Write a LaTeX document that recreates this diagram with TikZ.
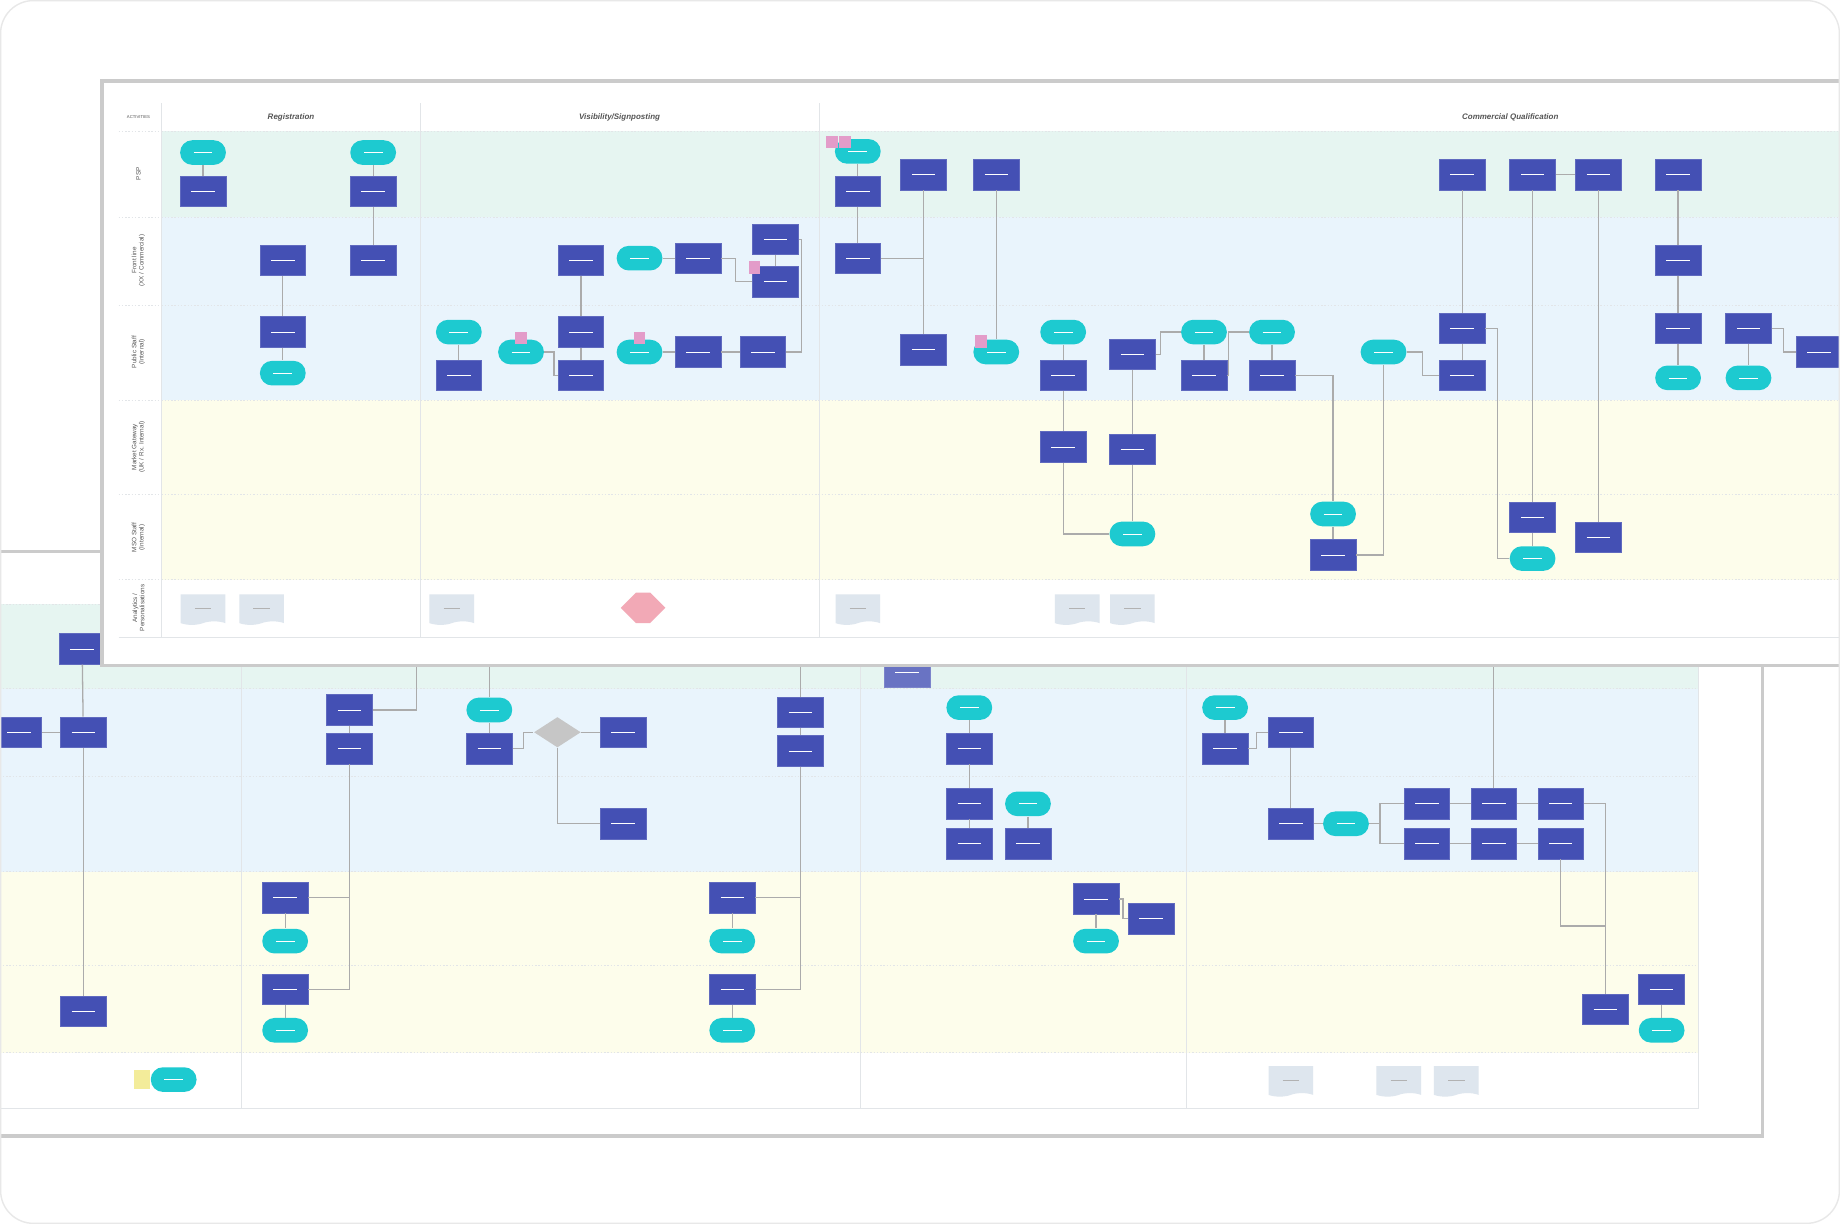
\documentclass[tikz,border=0pt]{standalone}
\usepackage{fontspec}
\setsansfont{Liberation Sans}
\usetikzlibrary{shapes.geometric,shapes.symbols,shapes.misc}
\definecolor{boxc}{HTML}{4450B4}
\definecolor{termc}{HTML}{1DCAD0}
\definecolor{lgreen}{HTML}{E6F5F1}
\definecolor{lblue}{HTML}{E9F4FC}
\definecolor{lyellow}{HTML}{FDFDEB}
\definecolor{framec}{HTML}{CBCBCB}
\definecolor{gridc}{HTML}{E2E5E8}
\definecolor{linec}{HTML}{ABABAB}
\definecolor{docc}{HTML}{DEE6EE}
\definecolor{pinkc}{HTML}{E39CC9}
\definecolor{stickyc}{HTML}{F3EC9A}
\definecolor{diac}{HTML}{C6C6C6}
\definecolor{hexc}{HTML}{F2A9B6}
\definecolor{headc}{HTML}{555555}
\definecolor{cardc}{HTML}{E8E8E8}
\begin{document}
\begin{tikzpicture}[x=0.5pt,y=-0.5pt,
  box/.style={rectangle, fill=boxc, draw=boxc!85!white, line width=0.3pt, minimum width=19.5pt, minimum height=13pt, inner sep=0pt,
    path picture={\draw[white,line width=0.3pt] ([xshift=-5pt]path picture bounding box.center) -- ([xshift=5pt]path picture bounding box.center);}},
  term/.style={rectangle, rounded corners=5.2pt, fill=termc, minimum width=19.5pt, minimum height=10.5pt, inner sep=0pt,
    path picture={\draw[white,line width=0.3pt] ([xshift=-4pt]path picture bounding box.center) -- ([xshift=4pt]path picture bounding box.center);}},
  doc/.style={tape, tape bend top=none, tape bend height=1.5pt, fill=docc, minimum width=19pt, minimum height=13pt, inner sep=0pt,
    path picture={\draw[black!30,line width=0.25pt] ([xshift=-3.5pt,yshift=0.5pt]path picture bounding box.center) -- ([xshift=3.5pt,yshift=0.5pt]path picture bounding box.center);}},
  sticky/.style={rectangle, fill=pinkc, minimum width=5pt, minimum height=5.5pt, inner sep=0pt},
  ysticky/.style={rectangle, fill=stickyc, minimum width=7pt, minimum height=8pt, inner sep=0pt},
  dia/.style={diamond, fill=diac, aspect=1.6, minimum width=20pt, minimum height=13pt, inner sep=0pt},
  hexa/.style={signal, signal to=west and east, fill=hexc, minimum width=19pt, minimum height=13pt, inner sep=0pt},
  conn/.style={draw=linec, line width=0.55pt},
  grid/.style={draw=gridc, line width=0.4pt},
  sep/.style={draw=gridc, line width=0.4pt, dash pattern=on 0.6pt off 0.8pt},
  panel/.style={fill=white, draw=framec, line width=1.5pt},
  head/.style={font=\sffamily\bfseries\itshape\fontsize{3.4}{4}\selectfont, text=headc},
  lanelab/.style={font=\sffamily\fontsize{2.7}{3.1}\selectfont, text=headc, rotate=90, align=center}
]
\useasboundingbox (0,0) rectangle (1568,1043);
\fill[white] (0,0) rectangle (1568,1043);
\begin{scope}
\clip[rounded corners=14pt] (0,0) rectangle (1568,1043);

% ================= BACK PANEL =================
\draw[panel] (-20,470) rectangle (1502,968);
\fill[lgreen] (-20,515) rectangle (1447,587);
\fill[lblue] (-20,587) rectangle (1447,743);
\fill[lyellow] (-20,743) rectangle (1447,897);
\foreach \yy in {515,587,662,743,823,897} {\draw[sep] (-20,\yy) -- (1447,\yy);}
\draw[grid] (-20,945) -- (1447,945);
\foreach \xx in {206,733,1011} {\draw[grid] (\xx,500) -- (\xx,945);}
\draw[grid] (1447,500) -- (1447,945);

\node[box] (d1) at (70,553) {};
\node[box] (d2) at (16,624) {};
\node[box] (d3) at (71,624) {};
\node[box] (d4) at (71,862) {};
\draw[conn] (d2) -- (d3);
\draw[conn] (d1) -- (d3);
\draw[conn] (d3) -- (d4);
\node[ysticky] (ds1) at (121,920) {};
\node[term] (d5) at (148,920) {};

\node[box] (d6) at (298,605) {};
\node[box] (d7) at (298,638) {};
\draw[conn] (d6) -- (d7);
\coordinate (u1) at (355,540);
\draw[conn] (d6.east) -| (u1);
\node[box] (d8) at (243,765) {};
\node[term] (d9) at (243,802) {};
\node[box] (d10) at (243,843) {};
\node[term] (d11) at (243,878) {};
\draw[conn] (d8) -- (d9);
\draw[conn] (d10) -- (d11);
\draw[conn] (d7.south) |- (d8.east);
\draw[conn] (d7.south) |- (d10.east);

\node[term] (d12) at (417,605) {};
\node[box] (d13) at (417,638) {};
\draw[conn] (d12) -- (d13);
\coordinate (u2) at (417,540);
\draw[conn] (d12.north) -- (u2);
\node[dia] (d14) at (475,624) {};
\node[box] (d15) at (531,624) {};
\node[box] (d16) at (531,702) {};
\draw[conn] (d13.east) -- (446,638) |- (d14.west);
\draw[conn] (d14) -- (d15);
\draw[conn] (d14.south) |- (d16.west);

\node[box] (d17) at (682,607) {};
\node[box] (d18) at (682,640) {};
\draw[conn] (d17) -- (d18);
\coordinate (u3) at (682,540);
\draw[conn] (d17.north) -- (u3);
\node[box] (d19) at (624,765) {};
\node[term] (d20) at (624,802) {};
\node[box] (d21) at (624,843) {};
\node[term] (d22) at (624,878) {};
\draw[conn] (d18.south) |- (d19.east);
\draw[conn] (d18.south) |- (d21.east);
\draw[conn] (d19) -- (d20);
\draw[conn] (d21) -- (d22);

\node[box, fill=boxc!80!white, draw=boxc!70!white] (d23) at (773,573) {};
\node[term] (d24) at (826,603) {};
\node[box] (d25) at (826,638) {};
\node[box] (d26) at (826,685) {};
\node[box] (d27) at (826,719) {};
\draw[conn] (d24) -- (d25);
\draw[conn] (d25) -- (d26);
\draw[conn] (d26) -- (d27);
\node[term] (d28) at (876,685) {};
\node[box] (d29) at (876,719) {};
\draw[conn] (d28) -- (d29);
\node[box] (d30) at (934,766) {};
\node[term] (d31) at (934,802) {};
\node[box] (d32) at (981,783) {};
\draw[conn] (d30) -- (d31);
\draw[conn] (d30.east) -- (957,766) |- (d32.west);

\node[term] (d33) at (1044,603) {};
\node[box] (d34) at (1044,638) {};
\node[box] (d35) at (1100,624) {};
\node[box] (d36) at (1100,702) {};
\draw[conn] (d33) -- (d34);
\draw[conn] (d34.east) -- (1071,638) |- (d35.west);
\draw[conn] (d35) -- (d36);
\node[term] (d37) at (1147,702) {};
\draw[conn] (d36) -- (d37);
\node[box] (d38) at (1216,685) {};
\node[box] (d39) at (1216,719) {};
\draw[conn] (d37.east) -- (1176,702) |- (d38.west);
\draw[conn] (d37.east) -- (1176,702) |- (d39.west);
\node[box] (d40) at (1273,685) {};
\node[box] (d41) at (1273,719) {};
\node[box] (d42) at (1330,685) {};
\node[box] (d43) at (1330,719) {};
\draw[conn] (d38) -- (d40);
\draw[conn] (d40) -- (d42);
\draw[conn] (d39) -- (d41);
\draw[conn] (d41) -- (d43);
\coordinate (u4) at (1273,540);
\draw[conn] (d40.north) -- (u4);
\node[box] (d44) at (1368,860) {};
\draw[conn] (d42.east) -| (d44.north);
\draw[conn] (d43.south) |- (1368,789);
\node[box] (d45) at (1416,843) {};
\node[term] (d46) at (1416,878) {};
\draw[conn] (d45) -- (d46);
\node[doc] (dd1) at (1100,920) {};
\node[doc] (dd2) at (1192,920) {};
\node[doc] (dd3) at (1241,920) {};

% ================= FRONT PANEL =================
\draw[panel] (87,69) rectangle (1600,567);
\fill[lgreen] (138,112) rectangle (1600,185);
\fill[lblue] (138,185) rectangle (1600,341);
\fill[lyellow] (138,341) rectangle (1600,494);
\foreach \yy in {112,185,260,341,421,494} {\draw[sep] (101,\yy) -- (1600,\yy);}
\draw[grid] (101,543) -- (1600,543);
\foreach \xx in {138,358,698} {\draw[grid] (\xx,88) -- (\xx,543);}

\node[font=\sffamily\fontsize{1.8}{2}\selectfont, text=headc] (l0) at (118,100) {ACTIVITIES};
\node[lanelab] (l1) at (118,148) {PSP};
\node[lanelab] (l2) at (118,222) {Front line\\(XX / Commercial)};
\node[lanelab] (l3) at (118,300) {Public Staff\\(Internal)};
\node[lanelab] (l4) at (118,381) {Market Gateway\\(UK / Rx. Internal)};
\node[lanelab] (l5) at (118,458) {MSO Staff\\(Internal)};
\node[lanelab] (l6) at (118,518) {Analytics /\\Personalisations};

\node[head] (h1) at (248,100) {Registration};
\node[head] (h2) at (528,100) {Visibility/Signposting};
\node[head] (h3) at (1287,100) {Commercial Qualification};

% Registration
\node[term] (a1) at (173,130) {};
\node[box] (a2) at (173,163) {};
\node[term] (a3) at (318,130) {};
\node[box] (a4) at (318,163) {};
\node[box] (a5) at (318,222) {};
\node[box] (a6) at (241,222) {};
\node[box] (a7) at (241,283) {};
\node[term] (a8) at (241,318) {};
\draw[conn] (a1) -- (a2);
\draw[conn] (a3) -- (a4);
\draw[conn] (a4) -- (a5);
\draw[conn] (a6) -- (a7);
\draw[conn] (a7) -- (a8);
\node[doc] (ad1) at (173,518) {};
\node[doc] (ad2) at (223,518) {};

% Visibility
\node[term] (b1) at (391,283) {};
\node[box] (b2) at (391,320) {};
\draw[conn] (b1) -- (b2);
\node[term] (b3) at (444,300) {};
\node[box] (b4) at (495,222) {};
\node[box] (b5) at (495,283) {};
\node[box] (b6) at (495,320) {};
\draw[conn] (b4) -- (b5);
\draw[conn] (b5) -- (b6);
\draw[conn] (b3.east) -- (472,300) |- (b6.west);
\node[sticky] (bs1) at (444,288) {};
\node[term] (b7) at (545,220) {};
\node[box] (b8) at (595,220) {};
\draw[conn] (b7) -- (b8);
\node[box] (b9) at (661,204) {};
\node[box] (b10) at (661,240) {};
\draw[conn] (b9) -- (b10);
\draw[conn] (b8.east) -- (627,220) |- (b10.west);
\node[sticky] (bs2) at (643,228) {};
\node[term] (b11) at (545,300) {};
\node[sticky] (bs3) at (545,288) {};
\node[box] (b12) at (595,300) {};
\node[box] (b13) at (650,300) {};
\draw[conn] (b11) -- (b12);
\draw[conn] (b12) -- (b13);
\draw[conn] (b13.east) -- (683,300) |- (b9.east);
\node[doc] (bd1) at (385,518) {};
\node[hexa] (bh1) at (548,518) {};

% Commercial
\node[term] (c1) at (731,129) {};
\node[sticky] (cs1) at (709,121) {};
\node[sticky] (cs2) at (720,121) {};
\node[box] (c2) at (731,163) {};
\node[box] (c3) at (731,220) {};
\draw[conn] (c1) -- (c2);
\draw[conn] (c2) -- (c3);
\node[box] (c4) at (787,149) {};
\node[box] (c5) at (787,298) {};
\draw[conn] (c4) -- (c5);
\draw[conn] (c3.east) -- (787,220);
\node[box] (c6) at (849,149) {};
\node[term] (c7) at (849,300) {};
\draw[conn] (c6) -- (c7);
\node[sticky] (cs3) at (836,291) {};
\node[term] (c8) at (906,283) {};
\node[box] (c9) at (906,320) {};
\node[box] (c10) at (906,381) {};
\draw[conn] (c8) -- (c9);
\draw[conn] (c9) -- (c10);
\node[box] (c11) at (965,302) {};
\node[box] (c12) at (965,383) {};
\node[term] (c13) at (965,455) {};
\draw[conn] (c11) -- (c12);
\draw[conn] (c12) -- (c13);
\draw[conn] (c10.south) |- (c13.west);
\node[term] (c14) at (1026,283) {};
\node[box] (c15) at (1026,320) {};
\draw[conn] (c14) -- (c15);
\draw[conn] (c11.east) -- (989,302) |- (c14.west);
\node[term] (c16) at (1084,283) {};
\node[box] (c17) at (1084,320) {};
\draw[conn] (c16) -- (c17);
\draw[conn] (c15.east) -- (1047,320) |- (c16.west);
\node[term] (c18) at (1136,438) {};
\node[box] (c19) at (1136,473) {};
\draw[conn] (c18) -- (c19);
\draw[conn] (c17.east) -| (c18.north);
\node[term] (c20) at (1179,300) {};
\draw[conn] (c19.east) -| (c20.south);
\node[box] (c21) at (1246,149) {};
\node[box] (c22) at (1246,280) {};
\node[box] (c23) at (1246,320) {};
\draw[conn] (c21) -- (c22);
\draw[conn] (c22) -- (c23);
\draw[conn] (c20.east) -- (1212,300) |- (c23.west);
\node[box] (c24) at (1306,149) {};
\node[box] (c25) at (1306,441) {};
\node[term] (c26) at (1306,476) {};
\draw[conn] (c24) -- (c25);
\draw[conn] (c25) -- (c26);
\draw[conn] (c22.east) -- (1276,280) |- (c26.west);
\node[box] (c27) at (1362,149) {};
\node[box] (c28) at (1362,458) {};
\draw[conn] (c24) -- (c27);
\draw[conn] (c27) -- (c28);
\node[box] (c29) at (1430,149) {};
\node[box] (c30) at (1430,222) {};
\node[box] (c31) at (1430,280) {};
\node[term] (c32) at (1430,322) {};
\draw[conn] (c29) -- (c30);
\draw[conn] (c30) -- (c31);
\draw[conn] (c31) -- (c32);
\node[box] (c33) at (1490,280) {};
\node[term] (c34) at (1490,322) {};
\draw[conn] (c33) -- (c34);
\node[box] (c35) at (1550,300) {};
\draw[conn] (c33.east) -- (1520,280) |- (c35.west);
\node[doc] (cd1) at (731,518) {};
\node[doc] (cd2) at (918,518) {};
\node[doc] (cd3) at (965,518) {};
\end{scope}
\draw[draw=cardc, line width=0.6pt, rounded corners=14pt] (0.5,0.5) rectangle (1567.5,1042.5);
\end{tikzpicture}
\end{document}
